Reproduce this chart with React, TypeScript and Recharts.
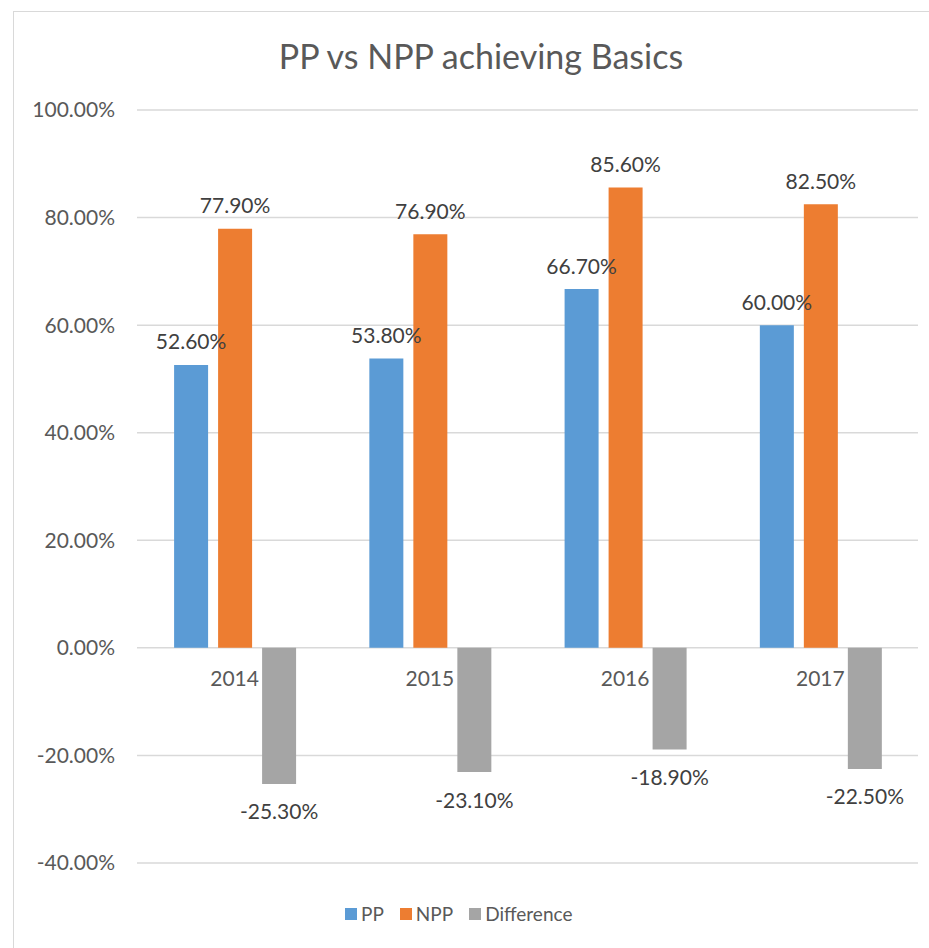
import React from "react";
import { Bar, BarChart, CartesianGrid, LabelList, XAxis, YAxis } from "recharts";

const years = ["2014", "2015", "2016", "2017"];
const ppValues = [52.6, 53.8, 66.7, 60.0];
const nppValues = [77.9, 76.9, 85.6, 82.5];
const diffValues = [-25.3, -23.1, -18.9, -22.5];
const yTicks = [-40, -20, 0, 20, 40, 60, 80, 100];

const seriesNames = ["PP", "NPP", "Difference"];
const seriesColors = ["#5B9BD5", "#ED7D31", "#A5A5A5"];

const data = years.map((year, i) => ({
  year,
  pp: ppValues[i],
  npp: nppValues[i],
  diff: diffValues[i],
}));

const W = 929;
const H = 948;
const FONT = "Lato, 'Open Sans', sans-serif";
const margin = { top: 110, right: 11, bottom: 55, left: 0 };
const xAxisHeight = 30;
const yMin = yTicks[0];
const yMax = yTicks[yTicks.length - 1];
const plotH = H - margin.top - margin.bottom - xAxisHeight;
const zeroY = margin.top + (plotH * yMax) / (yMax - yMin);

const fmt = (v: number) => `${v.toFixed(2)}%`;

function BarValueLabel(props: any): React.ReactElement {
  const x = Number(props.x);
  const y = Number(props.y);
  const width = Number(props.width);
  const height = Number(props.height);
  const value = Number(props.value);
  const top = Math.min(y, y + height);
  const bottom = Math.max(y, y + height);
  const ty = value >= 0 ? top - 24 : bottom + 27;
  return (
    <text
      x={x + width / 2}
      y={ty}
      textAnchor="middle"
      dominantBaseline="central"
      fontSize={21}
      fontFamily={FONT}
      fill="#404040"
    >
      {fmt(value)}
    </text>
  );
}

function YearTick(props: any): React.ReactElement {
  return (
    <text
      x={props.x}
      y={zeroY + 30}
      textAnchor="middle"
      dominantBaseline="central"
      fontSize={21}
      fontFamily={FONT}
      fill="#595959"
    >
      {props.payload.value}
    </text>
  );
}

export default function App(): React.ReactElement {
  return (
    <div style={{ position: "relative", width: W, height: H, overflow: "hidden", background: "#fff" }}>
      <style>{"body{margin:0}"}</style>
      <div
        style={{
          position: "absolute",
          left: 13,
          top: 11,
          width: W + 20,
          height: H + 20,
          border: "1.5px solid #D9D9D9",
        }}
      />
      <div
        style={{
          position: "absolute",
          left: 0,
          width: 962,
          top: 35,
          textAlign: "center",
          fontFamily: FONT,
          fontSize: 34,
          color: "#595959",
          lineHeight: "42px",
        }}
      >
        PP vs NPP achieving Basics
      </div>
      <div style={{ position: "absolute", left: 0, top: 0 }}>
        <BarChart
          width={W}
          height={H}
          data={data}
          margin={margin}
          barCategoryGap="19%"
          barGap={10}
        >
          <CartesianGrid vertical={false} stroke="#D9D9D9" strokeWidth={1.5} />
          <XAxis
            dataKey="year"
            axisLine={false}
            tickLine={false}
            height={xAxisHeight}
            tick={<YearTick />}
            interval={0}
          />
          <YAxis
            domain={[yMin, yMax]}
            ticks={yTicks}
            tickFormatter={(v) => fmt(Number(v))}
            axisLine={false}
            tickLine={false}
            tickSize={6}
            tickMargin={16}
            width={137}
            tick={{ fontSize: 21, fontFamily: FONT, fill: "#595959" }}
          />
          <Bar dataKey="pp" name={seriesNames[0]} fill={seriesColors[0]} isAnimationActive={false}>
            <LabelList dataKey="pp" content={<BarValueLabel />} />
          </Bar>
          <Bar dataKey="npp" name={seriesNames[1]} fill={seriesColors[1]} isAnimationActive={false}>
            <LabelList dataKey="npp" content={<BarValueLabel />} />
          </Bar>
          <Bar dataKey="diff" name={seriesNames[2]} fill={seriesColors[2]} isAnimationActive={false}>
            <LabelList dataKey="diff" content={<BarValueLabel />} />
          </Bar>
        </BarChart>
      </div>
      <div
        style={{
          position: "absolute",
          left: 345,
          top: 902,
          display: "flex",
          alignItems: "center",
          fontFamily: FONT,
          fontSize: 19,
          color: "#595959",
          lineHeight: "24px",
        }}
      >
        {seriesNames.map((name, i) => (
          <div key={name} style={{ display: "flex", alignItems: "center", marginRight: 16 }}>
            <span
              style={{ width: 12, height: 12, background: seriesColors[i], marginRight: 4, display: "inline-block" }}
            />
            <span>{name}</span>
          </div>
        ))}
      </div>
    </div>
  );
}
